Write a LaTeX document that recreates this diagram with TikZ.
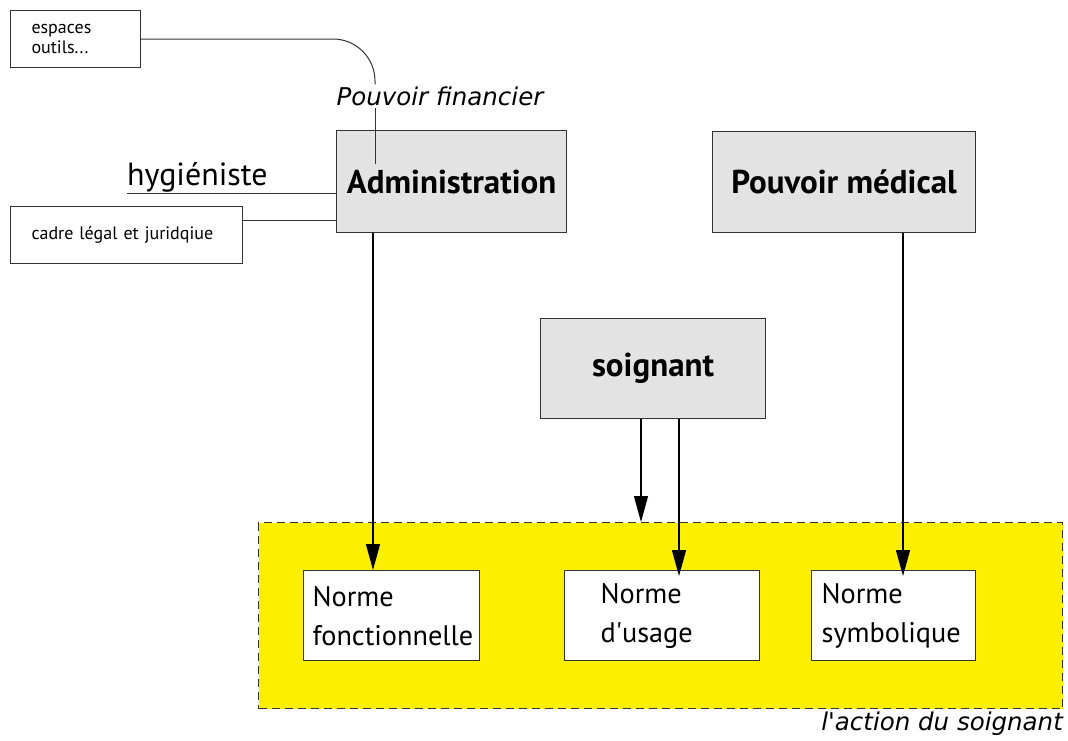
\documentclass[tikz,border=0pt]{standalone}
\usepackage{fontspec}
\setmainfont{PT Sans}
\newfontfamily\obliquefont{DejaVu Sans}
\usetikzlibrary{arrows.meta,positioning}

\definecolor{boxline}{RGB}{51,51,51}
\definecolor{boxgray}{RGB}{227,227,227}
\definecolor{actyellow}{RGB}{252,239,0}

\tikzset{
  graybox/.style={draw=boxline, line width=1.2pt, fill=boxgray, inner sep=0pt,
    font=\fontsize{33}{38}\selectfont\bfseries},
  notebox/.style={draw=boxline, line width=1pt, fill=white, anchor=north west,
    align=left, inner ysep=0pt, font=\fontsize{18}{20}\selectfont},
  normbox/.style={draw=boxline, line width=1.2pt, fill=white, anchor=north west,
    align=left, inner ysep=0pt, minimum height=90pt, font=\fontsize{28.3}{39}\selectfont},
  slanted/.style={font=\fontsize{24.5}{28}\selectfont\obliquefont\itshape},
  arr/.style={-{Triangle[length=26pt,width=14pt]}, line width=1.2pt},
  link/.style={line width=1pt, draw=boxline}
}

\begin{document}
\begin{tikzpicture}[x=1pt,y=1pt,yscale=-1,xscale=1]
\useasboundingbox (0,0) rectangle (1068,740);

%Shape: Rectangle [action du soignant]
\node (action) [draw=boxline, line width=1pt, dash pattern={on 8pt off 5pt}, fill=actyellow,
  anchor=north west, minimum width=804pt, minimum height=186pt, inner sep=0pt] at (258,522) {};
% Text Node
\node (actlbl) [slanted, anchor=north east, inner xsep=0pt, inner ysep=3pt] at (action.south east) {l\textquotesingle action du soignant};

%Shape: Rectangle [normes]
\node (normF) [normbox, inner xsep=9pt, text width=158pt] at (303,570) {Norme\\fonctionnelle};
\node (normU) [normbox, inner xsep=36pt, text width=123pt] at (564,570) {Norme\\d\textquotesingle usage};
\node (normS) [normbox, inner xsep=10pt, text width=144pt] at (811,570) {Norme\\symbolique};

%Shape: Rectangle [pouvoirs]
\node (adm) [graybox, anchor=north west, minimum width=230pt, minimum height=102pt] at (336,130) {Administration};
\node (med) [graybox, anchor=north west, minimum width=263pt, minimum height=101pt] at (712,131) {Pouvoir médical};
\node (soi) [graybox, anchor=north west, minimum width=225pt, minimum height=100pt] at (540,318) {soignant};

%Shape: Rectangle [notes]
\node (esp) [notebox, inner xsep=21pt, text width=88pt, minimum height=57pt] at (10,10) {espaces\\outils...};
\node (cadre) [notebox, inner xsep=21pt, text width=190pt, minimum height=57pt] at (10,206) {cadre légal et juridqiue};

% Text Node
\node (fin) [slanted, inner xsep=0pt, inner ysep=2pt] at (440,96) {Pouvoir financier};
% Text Node
\node (hyg) [anchor=base west, inner sep=0pt, font=\fontsize{32}{36}\selectfont] at (127,185) {hygiéniste};

% x positions of the links
\coordinate (finX) at (375,0);
\coordinate (admX) at (373,0);
\coordinate (soiX1) at (641,0);
\coordinate (soiX2) at (679,0);
\coordinate (medX) at (903,0);

%Straight Lines [into Administration]
\draw [link, rounded corners=42pt] (esp.east) -| (fin.north -| finX);
\draw [link] (fin.south -| finX) -- ([yshift=-18pt]adm.center -| finX);
\draw [link] ([yshift=8pt]hyg.base west) -- ([yshift=8pt]hyg.base west -| adm.west);
\draw [link] ([yshift=14pt]cadre.north east) -- ([yshift=14pt]cadre.north east -| adm.west);

%Straight Lines [arrows down]
\draw [arr] (adm.south -| admX) -- (normF.north -| admX);
\draw [arr] (soi.south -| soiX1) -- (action.north -| soiX1);
\draw [arr] (soi.south -| soiX2) -- ([yshift=6pt]normU.north -| soiX2);
\draw [arr] (med.south -| medX) -- ([yshift=6pt]normS.north -| medX);

\end{tikzpicture}
\end{document}
